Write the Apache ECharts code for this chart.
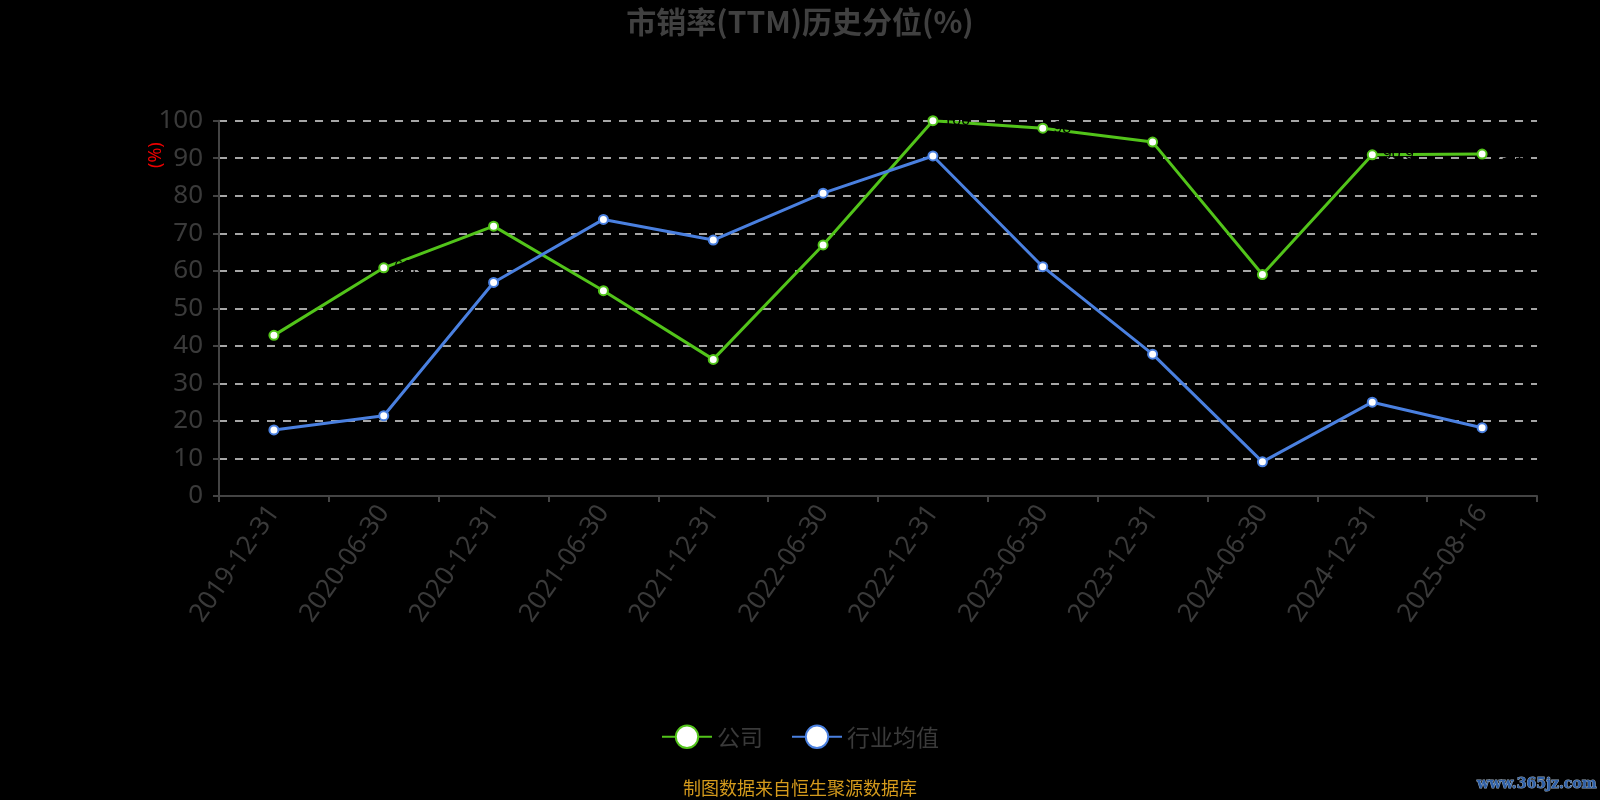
<!DOCTYPE html>
<html><head><meta charset="utf-8">
<script src="https://cdn.jsdelivr.net/npm/echarts@6/dist/echarts.min.js"></script>
<style>html,body{margin:0;padding:0;background:#000;}#c{width:1600px;height:800px;}</style>
</head><body><div id="c"></div>
<script>
const categories = ['2019-12-31','2020-06-30','2020-12-31','2021-06-30','2021-12-31','2022-06-30','2022-12-31','2023-06-30','2023-12-31','2024-06-30','2024-12-31','2025-08-16'];
const companyValues = [42.8, 60.8, 71.9, 54.7, 36.4, 66.9, 100, 98.0, 94.3, 59.0, 90.9, 91.1];
const industryValues = [17.6, 21.4, 56.9, 73.7, 68.2, 80.7, 90.6, 61.1, 37.8, 9.1, 25.0, 18.2];
const seriesNames = ['公司', '行业均值'];
const titleText = '市销率(TTM)历史分位(%)';
const sourceText = '制图数据来自恒生聚源数据库';

const chart = echarts.init(document.getElementById('c'));
const fontFam = '"Noto Sans","Noto Sans CJK SC",sans-serif';
chart.setOption({
  backgroundColor: '#000',
  title: { text: titleText, left: 'center', top: 2,
    textStyle: { color: '#404040', fontSize: 30, fontWeight: 'bold', fontFamily: '"Noto Sans CJK SC",sans-serif' } },
  grid: { left: 219, right: 63, top: 120.7, bottom: 304, containLabel: false },
  legend: { data: seriesNames, bottom: 46, left: 'center', itemWidth: 50, itemHeight: 28, itemGap: 28,
    textStyle: { color: '#3a3a3a', fontSize: 23, fontFamily: '"Noto Sans CJK SC",sans-serif' } },
  xAxis: { type: 'category', data: categories, boundaryGap: true,
    axisLine: { lineStyle: { color: '#444', width: 2 } },
    axisTick: { show: true, length: 6, lineStyle: { color: '#444', width: 2 } },
    axisLabel: { rotate: 55, color: '#3a3a3a', fontSize: 26, margin: 12, fontFamily: fontFam } },
  yAxis: { type: 'value', min: 0, max: 100, interval: 10,
    axisLine: { show: true, lineStyle: { color: '#444', width: 2 } },
    axisTick: { show: true, length: 6, lineStyle: { color: '#444', width: 2 } },
    axisLabel: { color: '#3a3a3a', fontSize: 26, margin: 16, fontFamily: fontFam },
    splitLine: { show: true, lineStyle: { color: '#ddd', type: [8, 8], width: 1.5 } } },
  graphic: [
    { type: 'text', x: 147, y: 168, rotation: Math.PI / 2,
      style: { text: '(%)', fill: '#e00', fontSize: 18, fontFamily: fontFam } },
    { type: 'text', left: 'center', top: 779,
      style: { text: sourceText, fill: '#d49a1c', fontSize: 18, fontFamily: '"Noto Sans CJK SC",sans-serif' } },
    { type: 'text', right: 3, top: 777,
      style: { text: 'www.365jz.com', fill: '#2d5fa8', stroke: '#9ab', lineWidth: 1, fontSize: 14, fontWeight: 'bold', fontFamily: 'DejaVu Serif' } }
  ],
  series: [
    { name: seriesNames[0], type: 'line', data: companyValues, symbol: 'circle', symbolSize: 9,
      lineStyle: { color: '#52c41a', width: 3 },
      itemStyle: { color: '#fff', borderColor: '#52c41a', borderWidth: 2 },
      label: { show: true, color: '#000', fontSize: 16, position: 'right' } },
    { name: seriesNames[1], type: 'line', data: industryValues, symbol: 'circle', symbolSize: 9,
      lineStyle: { color: '#4a80e0', width: 3 },
      itemStyle: { color: '#fff', borderColor: '#4a80e0', borderWidth: 2 } }
  ]
});
</script></body></html>
